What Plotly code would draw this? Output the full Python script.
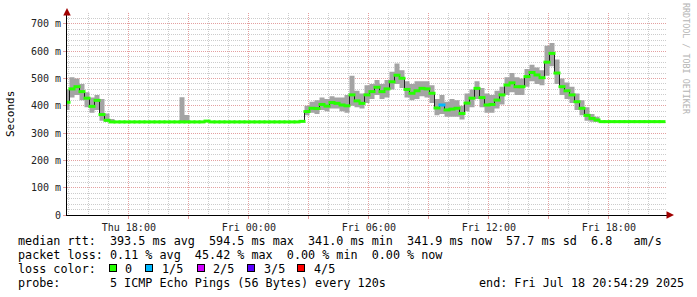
import pandas as pd
import plotly.graph_objects as go

# ---------------- data ----------------
start = pd.Timestamp("2025-07-17 14:54:29")
end = pd.Timestamp("2025-07-18 20:54:29")
step = pd.Timedelta(minutes=15)

median_ms = [
    413, 462, 470, 452, 428, 398, 420, 368, 347, 341,
    341, 341, 341, 341, 341, 341, 341, 341, 341, 341,
    341, 341, 341, 341, 341, 341, 341, 341, 344, 341,
    341, 341, 341, 341, 341, 341, 341, 341, 341, 341,
    341, 341, 341, 341, 341, 341, 341, 343, 379, 391,
    390, 405, 399, 412, 409, 403, 400, 440, 418, 409,
    440, 452, 468, 452, 462, 488, 512, 501, 460, 446,
    455, 464, 462, 446, 392, 403, 385, 388, 391, 372,
    410, 428, 464, 430, 403, 405, 421, 440, 476, 484,
    470, 470, 507, 522, 513, 503, 560, 592, 520, 470,
    455, 440, 415, 391, 365, 354, 348, 342, 342, 342,
    342, 342, 342, 342, 342, 342, 342, 342, 342, 342,
]
smoke_lo = [
    385, 430, 440, 420, 395, 375, 385, 345, 341, 341,
    341, 341, 341, 341, 341, 341, 341, 341, 341, 341,
    341, 341, 341, 341, 341, 341, 341, 341, 341, 341,
    341, 341, 341, 341, 341, 341, 341, 341, 341, 341,
    341, 341, 341, 341, 341, 341, 341, 341, 365, 375,
    370, 385, 380, 390, 390, 380, 375, 400, 395, 390,
    410, 425, 440, 425, 430, 460, 480, 465, 430, 420,
    425, 435, 430, 410, 365, 370, 360, 360, 360, 350,
    380, 395, 425, 395, 375, 375, 390, 405, 440, 450,
    440, 440, 470, 490, 480, 475, 510, 545, 480, 440,
    425, 410, 385, 365, 345, 342, 341, 341, 341, 341,
    341, 341, 341, 341, 341, 341, 341, 341, 341, 341,
]
smoke_hi = [
    460, 505, 500, 480, 450, 430, 440, 425, 372, 352,
    343, 343, 343, 343, 343, 343, 343, 343, 343, 343,
    343, 343, 343, 431, 366, 343, 343, 343, 345, 343,
    343, 343, 343, 343, 343, 343, 343, 343, 343, 343,
    343, 343, 343, 343, 343, 343, 343, 345, 400, 415,
    420, 430, 425, 435, 430, 430, 440, 510, 455, 445,
    475, 480, 495, 480, 495, 525, 555, 530, 490, 480,
    490, 490, 490, 475, 425, 440, 415, 425, 420, 400,
    445, 460, 490, 465, 445, 440, 455, 470, 505, 520,
    505, 500, 535, 550, 540, 530, 620, 630, 570, 500,
    485, 470, 445, 420, 395, 370, 360, 343, 343, 343,
    343, 343, 343, 343, 343, 343, 343, 343, 343, 343,
]
loss_level = [0] * 120
loss_level[75] = 1

loss_colors = ["#26ff00", "#00b8ff", "#d000ff", "#5a00ff", "#ff0000"]
loss_labels = ["0", "1/5", "2/5", "3/5", "4/5"]

x_tickvals = ["2025-07-17 18:00", "2025-07-17 21:00", "2025-07-18 00:00",
              "2025-07-18 03:00", "2025-07-18 06:00", "2025-07-18 09:00",
              "2025-07-18 12:00", "2025-07-18 15:00", "2025-07-18 18:00"]
x_ticktext = ["Thu 18:00", "", "Fri 00:00", "", "Fri 06:00", "",
              "Fri 12:00", "", "Fri 18:00"]
y_tickvals = [0, 100, 200, 300, 400, 500, 600, 700]
y_ticktext = ["0", "100 m", "200 m", "300 m", "400 m", "500 m", "600 m", "700 m"]

legend_lines = [
    "median rtt:  393.5 ms avg  594.5 ms max  341.0 ms min  341.9 ms now  57.7 ms sd  6.8   am/s",
    "packet loss: 0.11 % avg  45.42 % max  0.00 % min  0.00 % now",
    "loss color:",
    "probe:       5 ICMP Echo Pings (56 Bytes) every 120s",
]
end_text = "end: Fri Jul 18 20:54:29 2025"

# ---------------- geometry ----------------
W, H = 697, 297
L, R, T, B = 67, 30, 13, 82
PW, PH = W - L - R, H - T - B
MONO = "DejaVu Sans Mono"
FS = 11.75


def px(x):
    return (x - L) / PW


def py(y):
    return (T + PH - y) / PH


times = [start + step * i for i in range(len(median_ms))]

fig = go.Figure()
fig.add_trace(go.Scatter(x=times, y=smoke_lo, mode="lines", line=dict(width=0, shape="hvh"),
                         showlegend=False, hoverinfo="skip"))
fig.add_trace(go.Scatter(x=times, y=smoke_hi, mode="lines", line=dict(width=0, shape="hvh"),
                         fill="tonexty", fillcolor="#a4a4a4", showlegend=False, hoverinfo="skip"))
fig.add_trace(go.Scatter(x=times, y=median_ms, mode="lines", line=dict(width=1, color="#202020", shape="hvh"),
                         showlegend=False))
fig.add_trace(go.Scatter(x=times, y=median_ms, mode="markers",
                         marker=dict(symbol="line-ew", size=5,
                                     line=dict(width=3, color=[loss_colors[l] for l in loss_level])),
                         showlegend=False))

grid_major = "#e4a0a0"
grid_minor = "#cccccc"

fig.update_xaxes(
    type="date", range=[start, end],
    tickmode="array", tickvals=x_tickvals, ticktext=x_ticktext,
    showgrid=True, gridcolor=grid_major, griddash="1px,1px", gridwidth=1,
    ticks="outside", ticklen=3, tickcolor=grid_major,
    minor=dict(tick0="2025-07-17 15:00", dtick=3600000, showgrid=True,
               gridcolor=grid_minor, griddash="1px,1px", gridwidth=1),
    showline=True, linecolor="#000000", linewidth=1,
    tickfont=dict(family=MONO, size=10, color="#222222"),
    zeroline=False, fixedrange=True,
)
fig.update_yaxes(
    range=[0, 740],
    tickmode="array", tickvals=y_tickvals, ticktext=y_ticktext,
    showgrid=True, gridcolor=grid_major, griddash="1px,1px", gridwidth=1,
    ticks="outside", ticklen=3, tickcolor=grid_major,
    minor=dict(tick0=0, dtick=20, showgrid=True,
               gridcolor=grid_minor, griddash="1px,1px", gridwidth=1),
    showline=True, linecolor="#000000", linewidth=1,
    tickfont=dict(family=MONO, size=10, color="#222222"),
    zeroline=False, fixedrange=True,
)

ann = []
# y axis title
ann.append(dict(text="Seconds", x=px(10), y=py(114), xref="paper", yref="paper",
                xanchor="center", yanchor="middle",
                textangle=-90, showarrow=False, font=dict(family=MONO, size=11, color="#000000")))
# watermark
ann.append(dict(text="RRDTOOL / TOBI OETIKER", x=px(686), y=py(59), xref="paper", yref="paper",
                xanchor="center", yanchor="middle",
                textangle=90, showarrow=False, font=dict(family=MONO, size=8.4, color="#b4b4b4")))
# axis arrows
ann.append(dict(text="", x=px(67), y=py(8), ax=0, ay=6, xref="paper", yref="paper",
                showarrow=True, arrowhead=2, arrowsize=1, arrowwidth=1.5, arrowcolor="#a00000"))
ann.append(dict(text="", x=px(674), y=py(215), ax=-7, ay=0, xref="paper", yref="paper",
                showarrow=True, arrowhead=2, arrowsize=1, arrowwidth=1.5, arrowcolor="#a00000"))

nb = "\u00a0"
line_y = [241, 255, 269, 283]
for txt, yy in zip(legend_lines, line_y):
    ann.append(dict(text=txt.replace(" ", nb), x=px(16), y=py(yy), xref="paper", yref="paper",
                    xanchor="left", yanchor="middle", showarrow=False,
                    font=dict(family=MONO, size=FS, color="#000000")))
ann.append(dict(text=end_text.replace(" ", nb), x=px(477), y=py(283), xref="paper", yref="paper",
                xanchor="left", yanchor="middle", showarrow=False,
                font=dict(family=MONO, size=FS, color="#000000")))

square_x = [109, 145, 197, 247, 297]
label_x = [123, 160, 211, 262, 312]
for c, lab, sx, lx in zip(loss_colors, loss_labels, square_x, label_x):
    ann.append(dict(text=nb, x=px(sx), y=py(268), xref="paper", yref="paper",
                    xanchor="left", yanchor="middle", showarrow=False, width=6, height=6,
                    bgcolor=c, bordercolor="#000000", borderwidth=1, borderpad=0,
                    font=dict(family=MONO, size=6)))
    ann.append(dict(text=lab, x=px(lx), y=py(269), xref="paper", yref="paper",
                    xanchor="left", yanchor="middle", showarrow=False,
                    font=dict(family=MONO, size=FS, color="#000000")))

fig.update_layout(
    width=W, height=H, margin=dict(l=L, r=R, t=T, b=B, pad=0),
    paper_bgcolor="#ffffff", plot_bgcolor="#ffffff",
    annotations=ann, showlegend=False,
)

fig.write_html("out.html", config={"displayModeBar": False})
